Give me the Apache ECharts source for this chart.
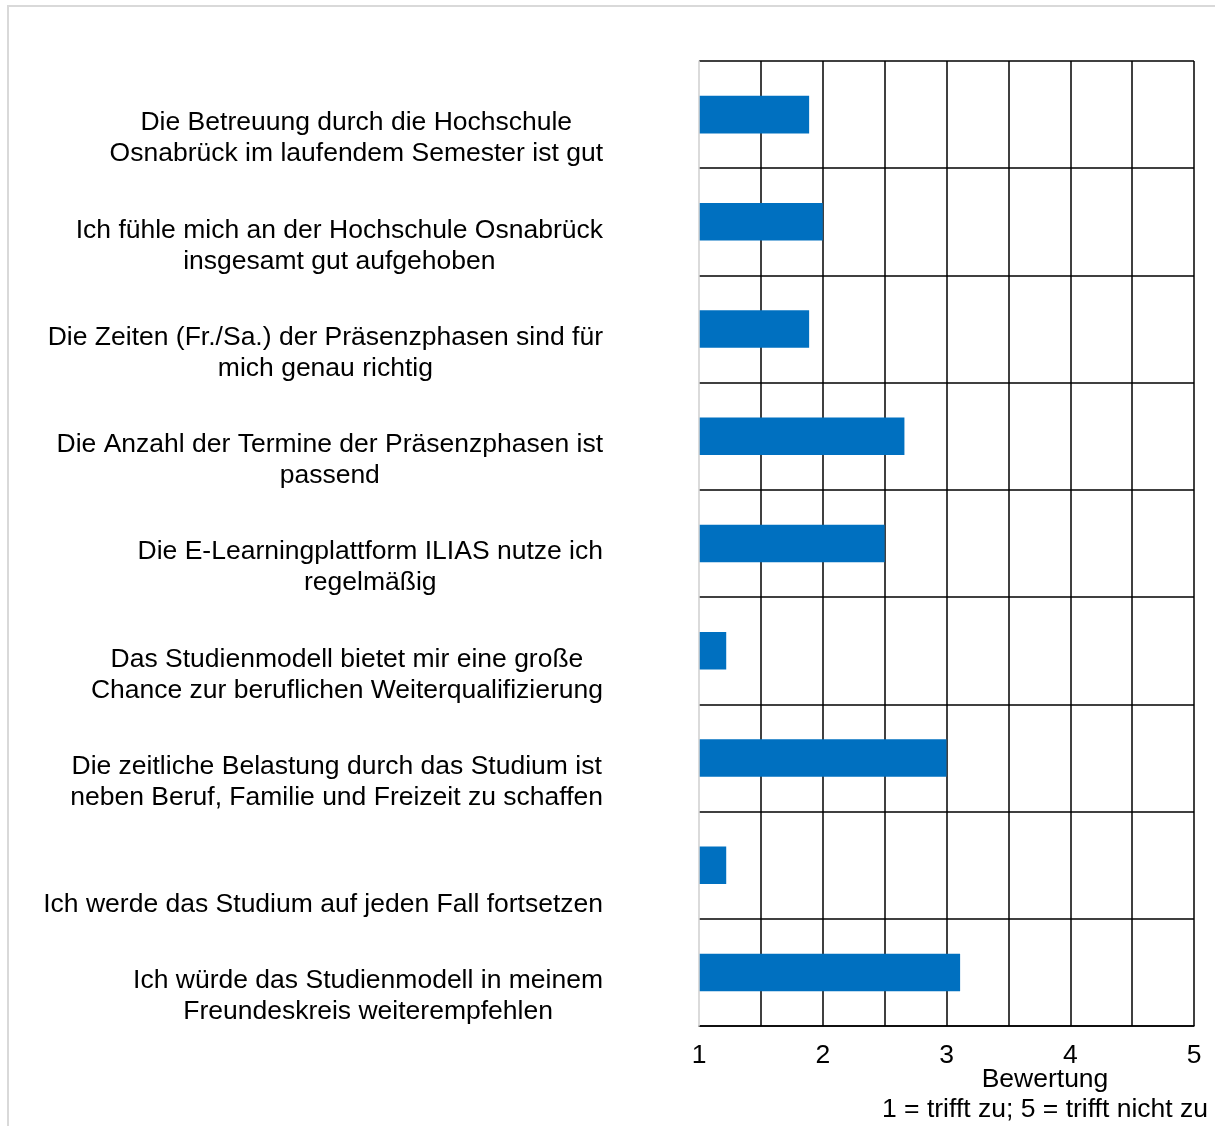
<!DOCTYPE html>
<html>
<head>
<meta charset="utf-8">
<script src="https://cdn.jsdelivr.net/npm/echarts@6/dist/echarts.min.js"></script>
<style>
  html, body { margin: 0; padding: 0; background: #fff; }
  #frame { position: absolute; left: 7px; top: 5px; width: 1220px; height: 1130px;
           border-left: 2px solid #d9d9d9; border-top: 2px solid #d9d9d9; }
  #chart { position: absolute; left: 0; top: 0; width: 1215px; height: 1126px; }
</style>
</head>
<body>
<div id="frame"></div>
<div id="chart"></div>
<script>
// survey statements (line breaks as in the original)
const statements = [
  'Die Betreuung durch die Hochschule\nOsnabrück im laufendem Semester ist gut',
  'Ich fühle mich an der Hochschule Osnabrück\ninsgesamt gut aufgehoben',
  'Die Zeiten (Fr./Sa.) der Präsenzphasen sind für\nmich genau richtig',
  'Die Anzahl der Termine der Präsenzphasen ist\npassend',
  'Die E-Learningplattform ILIAS nutze ich\nregelmäßig',
  'Das Studienmodell bietet mir eine große\nChance zur beruflichen Weiterqualifizierung',
  'Die zeitliche Belastung durch das Studium ist\nneben Beruf, Familie und Freizeit zu schaffen',
  ' \nIch werde das Studium auf jeden Fall fortsetzen',
  'Ich würde das Studienmodell in meinem\nFreundeskreis weiterempfehlen',
];
// mean rating, 1 = trifft zu ... 5 = trifft nicht zu
const ratings = [1.89, 2.0, 1.89, 2.66, 2.5, 1.22, 3.0, 1.22, 3.11];
const axisTitle = 'Bewertung\n1 = trifft zu; 5 = trifft nicht zu';

const FONT = 'Liberation Sans, Arial, Helvetica, sans-serif';
const FS = 26.5;
const BLUE = '#0070c0';

const chart = echarts.init(document.getElementById('chart'), null, { renderer: 'canvas' });
chart.setOption({
  backgroundColor: 'transparent',
  animation: false,
  textStyle: { fontFamily: FONT, color: '#000' },
  grid: { left: 699, right: 21, top: 61, bottom: 100, containLabel: false, outerBoundsMode: 'none' },
  xAxis: {
    type: 'value', min: 1, max: 5, interval: 0.5,
    name: axisTitle, nameLocation: 'middle', nameGap: 39, nameMoveOverlap: false,
    nameTextStyle: { color: '#000', fontFamily: FONT, fontSize: FS, lineHeight: 30,
                     align: 'center', verticalAlign: 'top', padding: [0, 0, 0, 197] },
    axisLine: { show: true, lineStyle: { color: '#000', width: 1.5 } },
    axisTick: { show: false },
    axisLabel: {
      color: '#000', fontFamily: FONT, fontSize: FS, margin: 16,
      formatter: (v) => Number.isInteger(v) ? String(v) : '',
    },
    splitLine: { lineStyle: { width: 1.5,
      color: ['#d9d9d9', '#000', '#000', '#000', '#000', '#000', '#000', '#000', '#000'] } },
  },
  yAxis: {
    type: 'category', data: statements, inverse: true,
    axisLine: { show: true, lineStyle: { color: '#d9d9d9', width: 1.5 } },
    axisTick: { show: false },
    axisLabel: {
      margin: 96, padding: [48, 0, 0, 0],
      formatter: (s) => s.split('\n').map((l) => '{c|' + l + '}').join('\n'),
      rich: { c: { align: 'center', fontFamily: FONT, fontSize: FS, lineHeight: 31, color: '#000' } },
    },
    splitLine: { show: true, lineStyle: { color: '#000', width: 1.5 } },
    z: 3,
  },
  series: [{
    type: 'bar', data: ratings, barWidth: '35%',
    itemStyle: { color: BLUE },
    clip: true,
  }],
});
</script>
</body>
</html>
